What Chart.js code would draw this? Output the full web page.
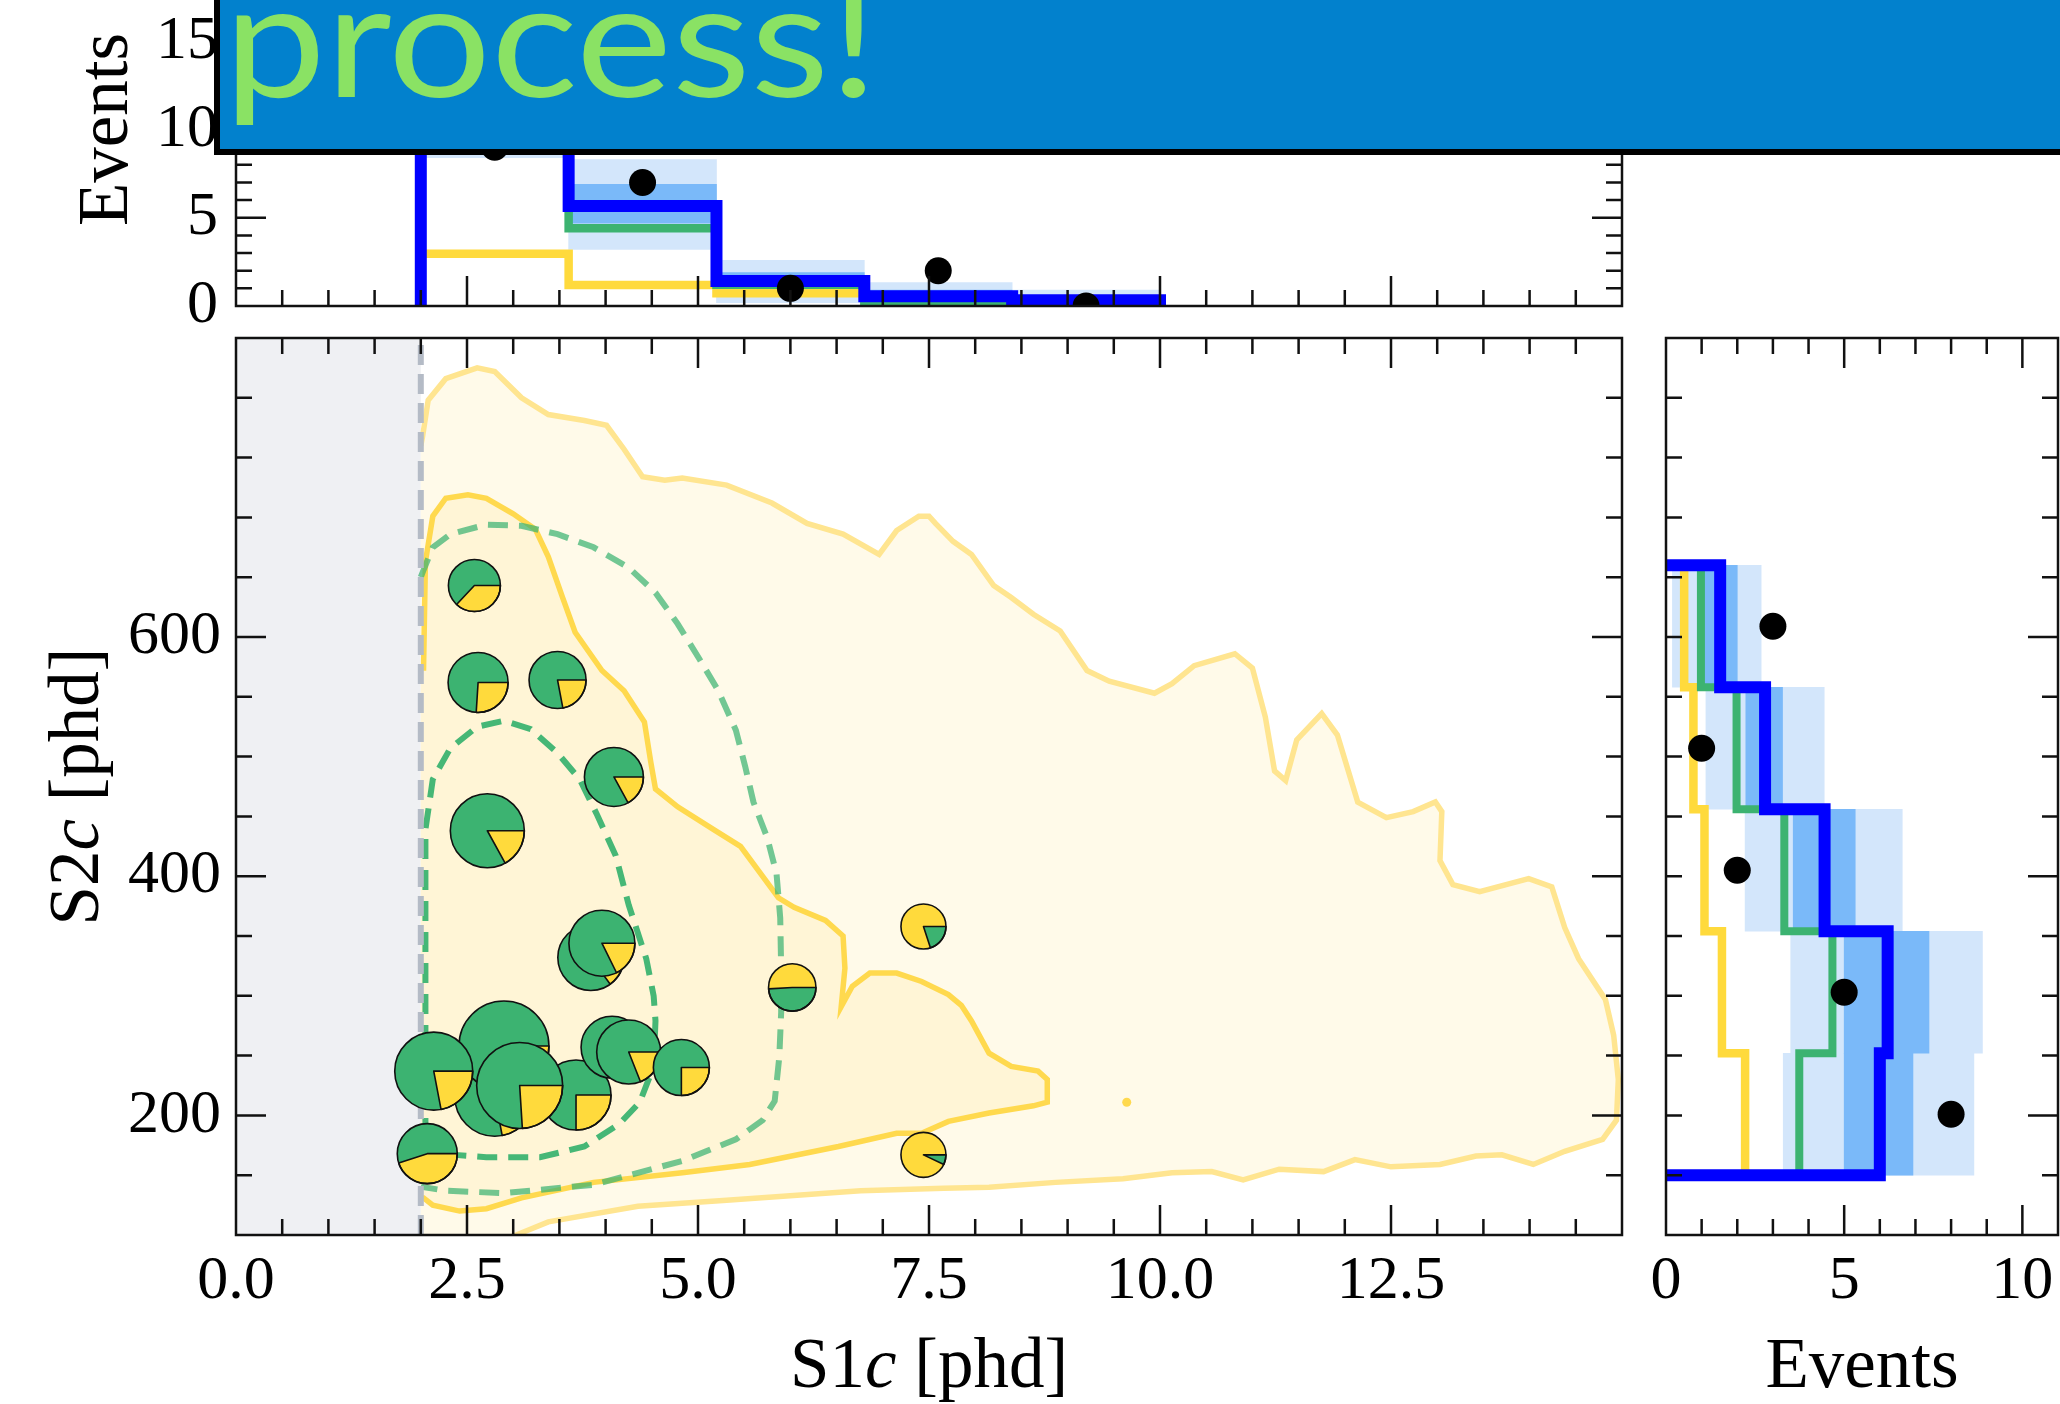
<!DOCTYPE html>
<html>
<head>
<meta charset="utf-8">
<script src="https://cdn.jsdelivr.net/npm/chart.js@4.4.1/dist/chart.umd.min.js"></script>
<style>
  html, body { margin: 0; padding: 0; background: #fff; }
  body { width: 2060px; height: 1404px; position: relative; overflow: hidden; }
  .box { position: absolute; }
  #banner { position: absolute; left: 0; top: 0; }
</style>
</head>
<body>
<div class="box" style="left:0;top:0;width:1660px;height:1404px"><canvas id="mainChart"></canvas></div>
<div class="box" style="left:0;top:-147px;width:1660px;height:580px"><canvas id="topChart"></canvas></div>
<div class="box" style="left:1640px;top:0;width:460px;height:1404px"><canvas id="sideChart"></canvas></div>
<svg id="banner" width="2060" height="160">
  <rect x="214" y="0" width="1846" height="155" fill="#000"/>
  <rect x="220" y="0" width="1840" height="149" fill="#0281cd"/>
  <text x="224" y="97" font-family="Lato" font-size="162" fill="#8ae264" textLength="654" lengthAdjust="spacingAndGlyphs">process!</text>
</svg>
<script>
// S1c projection (top panel)
const s1Edges = [2.0, 3.6, 5.2, 6.8, 8.4, 10.0];
const s1Total = [12.0, 5.66, 1.41, 0.55, 0.32];
const s1Green = [10.5, 4.4, 1.2, 0.06, 0.03];
const s1Yellow = [2.96, 1.19, 0.72, 0.42, 0.25];
const s1Band1Lo = [10.0, 4.7, 1.0, 0.25, 0.1];
const s1Band1Hi = [14.0, 6.9, 1.9, 0.9, 0.6];
const s1Band2Lo = [8.4, 3.2, 0.19, 0.0, 0.0];
const s1Band2Hi = [16.0, 8.3, 2.59, 1.32, 0.9];
const s1Events = [9, 7, 1, 2, 0];

// S2c projection (right panel)
const s2Edges = [150, 252, 354, 456, 558, 660];
const s2Total = [6.0, 6.22, 4.45, 2.78, 1.52];
const s2Green = [3.74, 4.67, 3.32, 1.98, 0.98];
const s2Yellow = [2.22, 1.57, 1.08, 0.77, 0.51];
const s2Band1Lo = [5.0, 5.0, 3.57, 2.24, 1.05];
const s2Band1Hi = [6.93, 7.38, 5.31, 3.27, 2.0];
const s2Band2Lo = [3.29, 3.5, 2.22, 1.12, 0.18];
const s2Band2Hi = [8.64, 8.88, 6.63, 4.44, 2.67];
const s2Events = [8, 5, 2, 1, 3];

// tick labels
const s1Ticks = [0, 2.5, 5, 7.5, 10, 12.5, 15];
const s2Labels = [200, 400, 600];
const eventLabels = [0, 5, 10];
const topEventTicks = [0, 5, 10, 15];

// events (pie markers), drawn in this order
const pieS1 = [2.80, 3.84, 2.90, 2.14, 3.68, 3.07, 4.07, 4.25, 4.82, 2.07, 2.58, 2.62, 3.48, 4.09, 2.72, 3.96, 6.02, 7.44, 7.44];
const pieS2 = [216, 332, 258, 237, 217, 225, 257, 253, 240, 168, 643, 562, 564, 483, 438, 344, 307, 358, 167];
const pieWeight = [40, 33, 45, 39, 35, 43, 31, 32, 28, 30, 26, 30, 28.5, 29.5, 37, 33, 23.7, 22.5, 22.5];
const pieYellow = [0.22, 0.15, 0.2, 0.22, 0.25, 0.24, 0.2, 0.19, 0.25, 0.45, 0.37, 0.26, 0.22, 0.17, 0.17, 0.177, 0.51, 0.8, 0.93];

// model contours in (S1c, S2c)
const outerContour = [[2.0, 90], [2.0, 760], [2.02, 768], [2.08, 798], [2.27, 816], [2.61, 825], [2.80, 822], [3.09, 800],
  [3.38, 786], [3.77, 781], [4.01, 777], [4.20, 757], [4.40, 734], [4.64, 731], [4.83, 733], [5.31, 727], [5.80, 712],
  [6.18, 695], [6.57, 686], [6.96, 669], [7.15, 689], [7.39, 701], [7.50, 701], [7.57, 695], [7.76, 680], [7.96, 669],
  [8.20, 643], [8.39, 633], [8.63, 619], [8.92, 605], [9.21, 572], [9.45, 563], [9.94, 553], [10.13, 561], [10.37, 576],
  [10.81, 586], [11.0, 574], [11.14, 533], [11.24, 488], [11.36, 480], [11.48, 514], [11.75, 536], [11.92, 518],
  [12.14, 462], [12.45, 449], [12.74, 454], [12.98, 462], [13.05, 454], [13.03, 413], [13.17, 393], [13.46, 387],
  [13.99, 398], [14.24, 391], [14.38, 357], [14.53, 331], [14.82, 297], [14.91, 267], [14.96, 230], [14.94, 196],
  [14.79, 180], [14.38, 170], [14.04, 159], [13.70, 167], [13.42, 166], [13.03, 159], [12.50, 157], [12.11, 163],
  [11.77, 153], [11.29, 155], [10.90, 146], [10.56, 153], [10.13, 152], [9.60, 147], [8.87, 144], [8.15, 140],
  [7.66, 139], [6.76, 137], [5.31, 129], [4.35, 124], [3.38, 111], [3.0, 99], [2.6, 90], [2.0, 90]];
const innerContour = [[2.0, 131], [2.0, 574], [2.03, 574], [2.05, 663], [2.13, 701], [2.27, 716], [2.51, 719], [2.71, 716],
  [3.0, 703], [3.24, 690], [3.38, 667], [3.53, 634], [3.67, 604], [3.96, 572], [4.20, 555], [4.42, 529], [4.49, 495],
  [4.54, 473], [4.78, 458], [5.17, 439], [5.46, 425], [5.68, 402], [5.87, 382], [6.04, 374], [6.38, 363], [6.57, 350],
  [6.59, 323], [6.55, 291], [6.67, 308], [6.86, 319], [7.15, 319], [7.42, 312], [7.71, 301], [7.85, 292], [7.96, 279],
  [8.15, 252], [8.39, 241], [8.68, 237], [8.78, 230], [8.78, 211], [8.63, 208], [8.15, 202], [7.71, 195], [7.42, 185],
  [7.15, 185], [6.52, 174], [5.56, 159], [4.83, 152], [3.87, 144], [3.09, 131], [2.71, 122], [2.42, 120], [2.13, 125],
  [2.03, 131], [2.0, 131]];
const innerIsland = [[9.64, 211]];
const greenOuter = [[2.0, 650], [2.03, 656], [2.13, 675], [2.32, 686], [2.71, 694], [3.09, 693], [3.48, 686], [3.87, 675],
  [4.25, 658], [4.54, 637], [4.78, 611], [5.02, 581], [5.22, 555], [5.41, 522], [5.51, 492], [5.60, 462], [5.75, 432],
  [5.85, 402], [5.89, 365], [5.90, 323], [5.90, 286], [5.88, 249], [5.83, 212], [5.70, 196], [5.41, 180], [4.83, 162],
  [3.87, 142], [2.90, 135], [2.27, 137], [2.03, 140], [2.0, 141]];
const greenInner = [[2.05, 181], [2.05, 439], [2.13, 481], [2.32, 507], [2.61, 525], [2.90, 530], [3.19, 523], [3.48, 503],
  [3.72, 481], [3.91, 451], [4.11, 417], [4.25, 376], [4.44, 331], [4.52, 300], [4.54, 279], [4.52, 241], [4.37, 211],
  [4.15, 193], [3.77, 174], [3.29, 165], [2.71, 165], [2.37, 167], [2.13, 170], [2.05, 181]];
const s1Threshold = 2.0;

const GREEN = '#3cb371', YELLOW = '#ffda3c', BLUE = '#0000ff';
const BAND1 = '#7ab9f9', BAND2 = '#d3e6fb';
const MAJOR = 30, MINOR = 16;

Chart.defaults.font.family = '"Liberation Serif", serif';
Chart.defaults.color = '#000';

const pts = arr => arr.map(p => ({x: p[0], y: p[1]}));
const centers = e => e.slice(0, -1).map((v, i) => (v + e[i + 1]) / 2);
const steps = (a, b, s) => { const out = []; for (let k = 0; a + k * s <= b + 1e-9; k++) out.push(+(a + k * s).toFixed(6)); return out; };
const fixTicks = list => s => { s.ticks = list.map(v => ({value: v})); };

function stepX(edges, vals) {
  const out = [{x: edges[0], y: 0}];
  vals.forEach((v, i) => out.push({x: edges[i], y: v}, {x: edges[i + 1], y: v}));
  out.push({x: edges[edges.length - 1], y: 0});
  return out;
}
function stepY(edges, vals) {
  const out = [{x: 0, y: edges[0]}];
  vals.forEach((v, i) => out.push({x: v, y: edges[i]}, {x: v, y: edges[i + 1]}));
  out.push({x: 0, y: edges[edges.length - 1]});
  return out;
}
function stepLine(data, color, width) {
  return {type: 'scatter', data, showLine: true, borderColor: color, borderWidth: width, pointRadius: 0,
    borderJoinStyle: 'miter', borderCapStyle: 'butt'};
}
function band(data, color, axis) {
  return {type: 'bar', data, backgroundColor: color, borderWidth: 0, grouped: false,
    barPercentage: 1, categoryPercentage: 1, indexAxis: axis};
}
function finish(list) {
  list.forEach((d, i) => { d.order = list.length - i; d.clip = 0; });
  return list;
}
const hideLeftEdge = {borderColor: c => (c.p0.parsed.x <= s1Threshold + 0.01 && c.p1.parsed.x <= s1Threshold + 0.01) ? 'rgba(0,0,0,0)' : undefined};

const decor = {
  mainChart: {x: {major: s1Ticks, minor: 0.5}, y: {major: s2Labels, minor: 50},
    titles: [{parts: [['S1', 0], ['c', 1], [' [phd]', 0]], side: 'bottom', gap: 152},
             {parts: [['S2', 0], ['c', 1], [' [phd]', 0]], side: 'left', gap: 138}]},
  topChart: {x: {major: s1Ticks, minor: 0.5}, y: {major: steps(0, 20, 5), minor: 1},
    titles: [{parts: [['Events', 0]], side: 'left', gap: 109}]},
  sideChart: {x: {major: eventLabels, minor: 1}, y: {major: s2Labels, minor: 50, leftMajor: MINOR},
    titles: [{parts: [['Events', 0]], side: 'bottom', gap: 152}]}
};

const shapeFill = {
  id: 'shapeFill',
  beforeDatasetDraw(chart, args) {
    const ds = chart.data.datasets[args.index];
    if (!ds.shapeFill) return;
    const {ctx, chartArea: a} = chart;
    ctx.save();
    ctx.beginPath();
    ctx.rect(a.left, a.top, a.right - a.left, a.bottom - a.top);
    ctx.clip();
    ctx.beginPath();
    args.meta.data.forEach((p, i) => i ? ctx.lineTo(p.x, p.y) : ctx.moveTo(p.x, p.y));
    ctx.closePath();
    ctx.fillStyle = ds.shapeFill;
    ctx.fill();
    ctx.restore();
  }
};

const pies = {
  id: 'pies',
  afterDatasetsDraw(chart) {
    const {ctx, chartArea: a} = chart;
    chart.data.datasets.forEach((ds, di) => {
      if (!ds.pieShare) return;
      const meta = chart.getDatasetMeta(di);
      ctx.save();
      ctx.beginPath();
      ctx.rect(a.left, a.top, a.right - a.left, a.bottom - a.top);
      ctx.clip();
      ctx.strokeStyle = '#111';
      ctx.lineWidth = 1.6;
      ctx.lineJoin = 'round';
      meta.data.forEach((el, i) => {
        const r = ds.data[i].r, f = ds.pieShare[i];
        const yellowMajor = f > 0.5, minor = yellowMajor ? 1 - f : f;
        ctx.beginPath();
        ctx.arc(el.x, el.y, r, 0, Math.PI * 2);
        ctx.fillStyle = yellowMajor ? YELLOW : GREEN;
        ctx.fill();
        ctx.beginPath();
        ctx.moveTo(el.x, el.y);
        ctx.arc(el.x, el.y, r, 0, minor * Math.PI * 2);
        ctx.closePath();
        ctx.fillStyle = yellowMajor ? GREEN : YELLOW;
        ctx.fill();
        ctx.stroke();
        ctx.beginPath();
        ctx.arc(el.x, el.y, r, 0, Math.PI * 2);
        ctx.stroke();
      });
      ctx.restore();
    });
  }
};

function drawTitle(chart, t) {
  const {ctx, chartArea: a} = chart;
  const size = 71;
  ctx.save();
  ctx.fillStyle = '#000';
  ctx.textBaseline = 'alphabetic';
  ctx.textAlign = 'left';
  const fonts = t.parts.map(p => (p[1] ? 'italic ' : '') + size + 'px "Liberation Serif"');
  const widths = t.parts.map((p, i) => { ctx.font = fonts[i]; return ctx.measureText(p[0]).width; });
  const total = widths.reduce((s, w) => s + w, 0);
  if (t.side === 'bottom') {
    ctx.translate((a.left + a.right) / 2, a.bottom + t.gap);
  } else {
    ctx.translate(a.left - t.gap, (a.top + a.bottom) / 2);
    ctx.rotate(-Math.PI / 2);
  }
  let x = -total / 2;
  t.parts.forEach((p, i) => { ctx.font = fonts[i]; ctx.fillText(p[0], x, 0); x += widths[i]; });
  ctx.restore();
}

const frame = {
  id: 'frame',
  afterDraw(chart) {
    const d = decor[chart.canvas.id];
    const {ctx, chartArea: a, scales} = chart;
    const xs = scales.x, ys = scales.y;
    const isMajor = (v, list) => list.some(m => Math.abs(m - v) < 1e-6);
    ctx.save();
    ctx.strokeStyle = '#111';
    ctx.lineWidth = 2.5;
    ctx.lineCap = 'butt';
    ctx.beginPath();
    steps(xs.min, xs.max, d.x.minor).forEach(v => {
      const p = xs.getPixelForValue(v);
      if (p <= a.left + 2 || p >= a.right - 2) return;
      const len = isMajor(v, d.x.major) ? MAJOR : MINOR;
      ctx.moveTo(p, a.bottom); ctx.lineTo(p, a.bottom - len);
      ctx.moveTo(p, a.top); ctx.lineTo(p, a.top + len);
    });
    steps(ys.min, ys.max, d.y.minor).forEach(v => {
      const p = ys.getPixelForValue(v);
      if (p <= a.top + 2 || p >= a.bottom - 2) return;
      const major = isMajor(v, d.y.major);
      const lenL = major ? (d.y.leftMajor || MAJOR) : MINOR;
      const lenR = major ? MAJOR : MINOR;
      ctx.moveTo(a.left, p); ctx.lineTo(a.left + lenL, p);
      ctx.moveTo(a.right, p); ctx.lineTo(a.right - lenR, p);
    });
    ctx.stroke();
    ctx.strokeRect(a.left, a.top, a.right - a.left, a.bottom - a.top);
    ctx.restore();
    d.titles.forEach(t => drawTitle(chart, t));
  }
};

const tickFont = {size: 62, family: '"Liberation Serif", serif'};
const baseOptions = (padding) => ({
  responsive: true,
  maintainAspectRatio: false,
  animation: false,
  events: [],
  layout: {padding, autoPadding: false},
  plugins: {legend: {display: false}, tooltip: {enabled: false}}
});

const s1Centers = centers(s1Edges);
const s2Centers = centers(s2Edges);

// main S1c-S2c panel
new Chart(document.getElementById('mainChart'), {
  type: 'scatter',
  data: {datasets: finish([
    {data: pts([[0, 100], [s1Threshold, 100], [s1Threshold, 850], [0, 850]]), showLine: false, pointRadius: 0, shapeFill: '#eff0f3'},
    {data: pts(outerContour), showLine: true, pointRadius: 0, borderColor: '#ffe590', borderWidth: 5.5, shapeFill: '#fffae9', segment: hideLeftEdge},
    {data: pts(innerContour), showLine: true, pointRadius: 0, borderColor: '#ffd94e', borderWidth: 5.5, shapeFill: '#fff5d6', segment: hideLeftEdge},
    {data: pts(innerIsland), pointRadius: 4.5, backgroundColor: '#ffd94e', borderWidth: 0},
    {data: pts(greenOuter), showLine: true, pointRadius: 0, borderColor: 'rgba(60,179,113,0.72)', borderWidth: 6, borderDash: [20, 11]},
    {data: pts(greenInner), showLine: true, pointRadius: 0, borderColor: 'rgba(60,179,113,0.95)', borderWidth: 6, borderDash: [20, 11]},
    {data: pts([[s1Threshold, 100], [s1Threshold, 850]]), showLine: true, pointRadius: 0, borderColor: '#b4bbc6', borderWidth: 6, borderDash: [20, 9]},
    {type: 'bubble', data: pieS1.map((x, i) => ({x, y: pieS2[i], r: pieWeight[i]})),
      backgroundColor: 'rgba(0,0,0,0)', borderWidth: 0, pieShare: pieYellow}
  ])},
  options: Object.assign(baseOptions({left: 0, top: 338, right: 38, bottom: 0}), {
    scales: {
      x: {type: 'linear', min: 0, max: 15, offset: false,
        grid: {display: false, drawTicks: false}, border: {display: false},
        afterBuildTicks: fixTicks(s1Ticks),
        ticks: {autoSkip: false, maxRotation: 0, padding: 10, font: tickFont,
          callback: v => v >= 15 ? '' : v.toFixed(1)},
        afterFit: s => { s.height = 169; }},
      y: {type: 'linear', min: 100, max: 850, offset: false,
        grid: {display: false, drawTicks: false}, border: {display: false},
        afterBuildTicks: fixTicks(s2Labels),
        ticks: {padding: 15, font: tickFont, callback: v => String(v)},
        afterFit: s => { s.width = 236; }}
    }
  }),
  plugins: [shapeFill, pies, frame]
});

// top S1c projection
new Chart(document.getElementById('topChart'), {
  type: 'scatter',
  data: {datasets: finish([
    band(s1Centers.map((x, i) => ({x, y: [s1Band2Lo[i], s1Band2Hi[i]]})), BAND2, 'x'),
    band(s1Centers.map((x, i) => ({x, y: [s1Band1Lo[i], s1Band1Hi[i]]})), BAND1, 'x'),
    stepLine(stepX(s1Edges, s1Yellow), YELLOW, 8.5),
    stepLine(stepX(s1Edges, s1Green), GREEN, 8.5),
    stepLine(stepX(s1Edges, s1Total), BLUE, 12),
    {data: s1Centers.map((x, i) => ({x, y: s1Events[i]})), pointRadius: 13.5, backgroundColor: '#000', borderWidth: 0}
  ])},
  options: Object.assign(baseOptions({left: 0, top: 100, right: 38, bottom: 127}), {
    scales: {
      x: {type: 'linear', min: 0, max: 15, offset: false, display: false, grid: {offset: false},
        afterBuildTicks: fixTicks(s1Ticks)},
      y: {type: 'linear', min: 0, max: 20, offset: false,
        grid: {display: false, drawTicks: false}, border: {display: false},
        afterBuildTicks: fixTicks(topEventTicks),
        ticks: {padding: 18, font: tickFont, callback: v => String(v)},
        afterFit: s => { s.width = 236; }}
    }
  }),
  plugins: [frame]
});

// right S2c projection
new Chart(document.getElementById('sideChart'), {
  type: 'scatter',
  data: {datasets: finish([
    band(s2Centers.map((y, i) => ({y, x: [s2Band2Lo[i], s2Band2Hi[i]]})), BAND2, 'y'),
    band(s2Centers.map((y, i) => ({y, x: [s2Band1Lo[i], s2Band1Hi[i]]})), BAND1, 'y'),
    stepLine(stepY(s2Edges, s2Yellow), YELLOW, 8.5),
    stepLine(stepY(s2Edges, s2Green), GREEN, 8),
    stepLine(stepY(s2Edges, s2Total), BLUE, 12),
    {data: s2Centers.map((y, i) => ({x: s2Events[i], y})), pointRadius: 13.5, backgroundColor: '#000', borderWidth: 0}
  ])},
  options: Object.assign(baseOptions({left: 26, top: 338, right: 42, bottom: 0}), {
    scales: {
      x: {type: 'linear', min: 0, max: 11, offset: false,
        grid: {display: false, drawTicks: false}, border: {display: false},
        afterBuildTicks: fixTicks(eventLabels),
        ticks: {autoSkip: false, maxRotation: 0, padding: 10, font: tickFont, callback: v => String(v)},
        afterFit: s => { s.height = 169; }},
      y: {type: 'linear', min: 100, max: 850, offset: false, display: false, grid: {offset: false},
        afterBuildTicks: fixTicks(s2Labels)}
    }
  }),
  plugins: [frame]
});
</script>
</body>
</html>
